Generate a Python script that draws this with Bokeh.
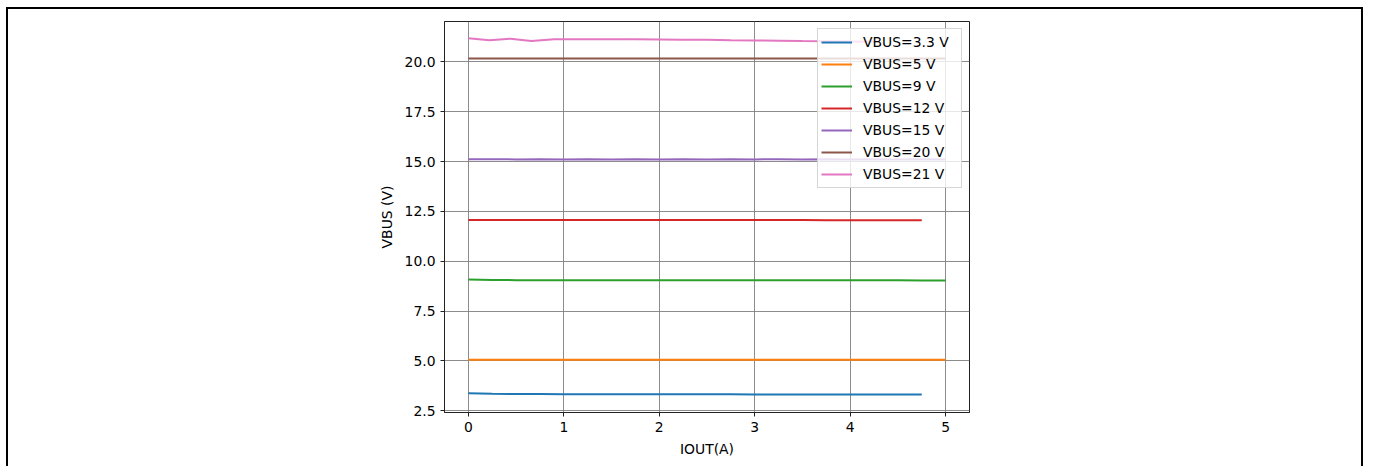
from bokeh.plotting import figure
from bokeh.models import Range1d, FixedTicker, PrintfTickFormatter, Legend, LegendItem, Label
from bokeh.embed import file_html
from bokeh.resources import INLINE

# ---- data ----
IOUT_475 = [0, 0.25, 0.5, 0.75, 1.0, 1.25, 1.5, 1.75, 2.0, 2.25, 2.5, 2.75,
            3.0, 3.25, 3.5, 3.75, 4.0, 4.25, 4.5, 4.75]
IOUT_500 = IOUT_475 + [5.0]
IOUT_21V = [0, 0.22, 0.44, 0.66, 0.9, 1.25, 1.5, 1.75, 2.0, 2.25, 2.5, 2.75,
            3.0, 3.25, 3.5, 3.75, 4.0, 4.25]

VBUS_3V3 = [3.38, 3.35, 3.34, 3.34, 3.32, 3.32, 3.32, 3.32, 3.32, 3.32, 3.32, 3.32,
            3.31, 3.31, 3.31, 3.31, 3.31, 3.31, 3.31, 3.31]
VBUS_5V = [5.06, 5.06, 5.06, 5.06, 5.06, 5.06, 5.06, 5.06, 5.06, 5.06, 5.06, 5.06,
           5.06, 5.06, 5.06, 5.06, 5.06, 5.06, 5.06, 5.06, 5.06]
VBUS_9V = [9.08, 9.06, 9.05, 9.05, 9.05, 9.05, 9.05, 9.05, 9.04, 9.04, 9.04, 9.04,
           9.04, 9.04, 9.04, 9.04, 9.04, 9.04, 9.04, 9.03, 9.03]
VBUS_12V = [12.07, 12.07, 12.07, 12.07, 12.07, 12.07, 12.07, 12.07, 12.07, 12.07,
            12.07, 12.07, 12.07, 12.07, 12.07, 12.06, 12.06, 12.06, 12.06, 12.06]
VBUS_15V = [15.12, 15.12, 15.11, 15.12, 15.11, 15.12, 15.11, 15.12, 15.11, 15.12,
            15.11, 15.12, 15.11, 15.12, 15.11, 15.12, 15.11, 15.12, 15.11, 15.12, 15.11]
VBUS_20V = [20.17, 20.17, 20.17, 20.17, 20.17, 20.17, 20.17, 20.17, 20.17, 20.17,
            20.17, 20.17, 20.17, 20.17, 20.17, 20.17, 20.17, 20.17, 20.17, 20.17, 20.17]
VBUS_21V = [21.19, 21.09, 21.17, 21.05, 21.14, 21.14, 21.14, 21.14, 21.13, 21.12,
            21.11, 21.09, 21.08, 21.07, 21.05, 21.04, 21.03, 21.02]

SERIES = [
    ("VBUS=3.3 V", IOUT_475, VBUS_3V3, "#1f77b4"),
    ("VBUS=5 V", IOUT_500, VBUS_5V, "#ff7f0e"),
    ("VBUS=9 V", IOUT_500, VBUS_9V, "#2ca02c"),
    ("VBUS=12 V", IOUT_475, VBUS_12V, "#d62728"),
    ("VBUS=15 V", IOUT_500, VBUS_15V, "#9467bd"),
    ("VBUS=20 V", IOUT_500, VBUS_20V, "#8c564b"),
    ("VBUS=21 V", IOUT_21V, VBUS_21V, "#e377c2"),
]

X_TICKS = [0, 1, 2, 3, 4, 5]
Y_TICKS = [2.5, 5.0, 7.5, 10.0, 12.5, 15.0, 17.5, 20.0]
TITLE = "."
X_LABEL = "IOUT(A)"
Y_LABEL = "VBUS (V)"

FONT = "DejaVu Sans"
FS = "13.9px"

p = figure(width=1357, height=459, output_backend="svg", toolbar_location=None,
           x_range=Range1d(-0.25, 5.25), y_range=Range1d(2.41, 22.03),
           min_border_left=436, min_border_right=396, min_border_top=12,
           min_border_bottom=56)
p.styles = {"margin-top": "7px", "margin-left": "6px",
            "border-top": "2px solid black", "border-left": "2px solid black",
            "border-right": "2px solid black"}
p.background_fill_color = "white"
p.border_fill_color = "white"
p.outline_line_color = "#222222"
p.outline_line_width = 1

for ax in (p.xaxis[0], p.yaxis[0]):
    ax.axis_line_color = "#222222"
    ax.major_tick_line_color = "#222222"
    ax.major_tick_in = 0
    ax.major_tick_out = 4
    ax.minor_tick_line_color = None
    ax.major_label_text_font = FONT
    ax.major_label_text_font_size = FS
    ax.major_label_text_color = "black"
    ax.axis_label_text_font = FONT
    ax.axis_label_text_font_size = FS
    ax.axis_label_text_font_style = "normal"
    ax.axis_label_text_color = "black"
    ax.major_label_standoff = 5

p.xaxis.ticker = FixedTicker(ticks=X_TICKS)
p.yaxis.ticker = FixedTicker(ticks=Y_TICKS)
p.yaxis.formatter = PrintfTickFormatter(format="%.1f")
p.xaxis.axis_label = X_LABEL
p.yaxis.axis_label = Y_LABEL
p.xaxis.axis_label_standoff = 6
p.yaxis.axis_label_standoff = 7

p.grid.grid_line_color = "#808080"
p.grid.grid_line_width = 1
p.grid.grid_line_alpha = 0.9

items = []
for name, xs, ys, col in SERIES:
    r = p.line(xs, ys, line_color=col, line_width=2)
    items.append(LegendItem(label=name, renderers=[r]))

legend = Legend(items=items, location="top_right", margin=7, padding=3,
                spacing=2, glyph_width=31, glyph_height=20, label_height=20,
                label_width=95, label_standoff=11,
                label_text_font=FONT, label_text_font_size=FS,
                label_text_color="black",
                background_fill_color="white", background_fill_alpha=0.8,
                border_line_color="#cccccc", border_line_alpha=0.8)
p.add_layout(legend, "center")

p.add_layout(Label(x=2.21, y=22.43, text=TITLE, text_font=FONT, text_font_size="7px",
                   text_font_style="bold", text_align="center", text_baseline="middle",
                   text_color="black"))

open("out.html", "w").write(file_html(p, INLINE))
